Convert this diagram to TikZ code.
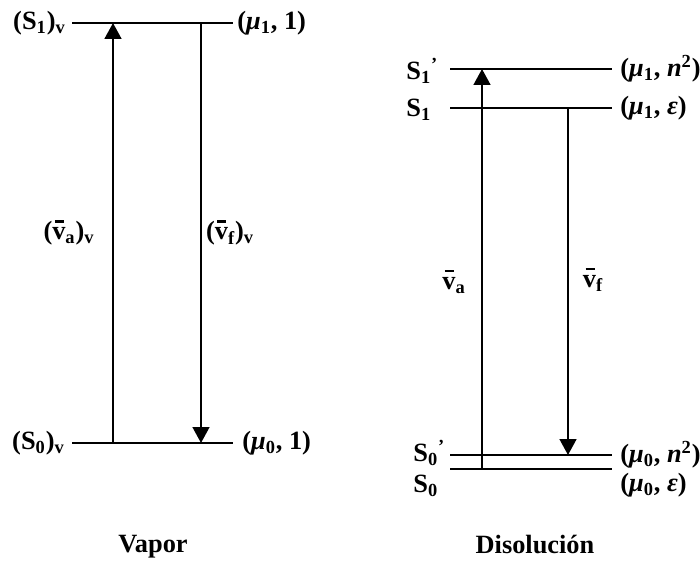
\documentclass[tikz,border=0pt]{standalone}
\usepackage{fontspec}
\setmainfont{Liberation Serif}
\usetikzlibrary{arrows.meta}
\newcommand{\vbar}{\leavevmode\rlap{\hspace{0.1em}\raisebox{0.66em}{\rule{0.34em}{0.08em}}}v}

\begin{document}
\begin{tikzpicture}[x=0.02cm, y=-0.02cm,
  lvl/.style={line width=1.1pt},
  tr/.style={line width=1.1pt, -{Triangle[length=9pt, width=9.5pt]}},
  lb/.style={font=\fontsize{15}{18}\selectfont\bfseries, inner sep=0pt},
]
\useasboundingbox (0,0) rectangle (700,563);

% levels: name / y / x left / x right
\foreach \n/\y/\xa/\xb in {s1v/23/72/233, s0v/443/72/233,
                           s1p/69/450/612, s1/108/450/612, s0p/455/450/612, s0/469/450/612} {
  \coordinate (\n-l) at (\xa,\y);
  \coordinate (\n-r) at (\xb,\y);
  \draw[lvl] (\n-l) -- (\n-r);
}

% transitions
\coordinate (absv-a) at (113,443);  \coordinate (absv-b) at (113,23);
\coordinate (emv-a)  at (201,23);   \coordinate (emv-b)  at (201,443);
\coordinate (abs-a)  at (482,469);  \coordinate (abs-b)  at (482,69);
\coordinate (em-a)   at (568,108);  \coordinate (em-b)   at (568,455);
\foreach \a/\b in {absv-a/absv-b, emv-a/emv-b, abs-a/abs-b, em-a/em-b}
  \draw[tr] (\a) -- (\b);

% vapor labels
\node[lb, anchor=east] (ls1v) at (66,23)  {(S\textsubscript{1})\textsubscript{v}};
\node[lb, anchor=east] (ls0v) at (65,443) {(S\textsubscript{0})\textsubscript{v}};
\node[lb, anchor=west] (lm1v) at (237,23)  {(\textit{μ}\textsubscript{1}, 1)};
\node[lb, anchor=west] (lm0v) at (242,443) {(\textit{μ}\textsubscript{0}, 1)};
\node[lb] (lvav) at (69,233)  {(\vbar\textsubscript{a})\textsubscript{v}};
\node[lb] (lvfv) at (230,233) {(\vbar\textsubscript{f})\textsubscript{v}};
\node[lb] (vapor) at (153,547) {Vapor};

% disolucion labels
\node[lb, anchor=west] (ls1p) at (406,71)  {S\textsubscript{1}\textsuperscript{'}};
\node[lb, anchor=west] (ls1)  at (406,110) {S\textsubscript{1}};
\node[lb, anchor=west] (ls0p) at (413,453) {S\textsubscript{0}\textsuperscript{'}};
\node[lb, anchor=west] (ls0)  at (413,486) {S\textsubscript{0}};
\node[lb, anchor=west] (lm1p) at (620,69)  {(\textit{μ}\textsubscript{1}, \textit{n}\textsuperscript{2})};
\node[lb, anchor=west] (lm1)  at (620,108) {(\textit{μ}\textsubscript{1}, \textit{ε})};
\node[lb, anchor=west] (lm0p) at (620,455) {(\textit{μ}\textsubscript{0}, \textit{n}\textsuperscript{2})};
\node[lb, anchor=west] (lm0)  at (620,485) {(\textit{μ}\textsubscript{0}, \textit{ε})};
\node[lb] (lva) at (454,282) {\vbar\textsubscript{a}};
\node[lb] (lvf) at (593,280) {\vbar\textsubscript{f}};
\node[lb] (disol) at (535,545) {Disolución};
\end{tikzpicture}
\end{document}
